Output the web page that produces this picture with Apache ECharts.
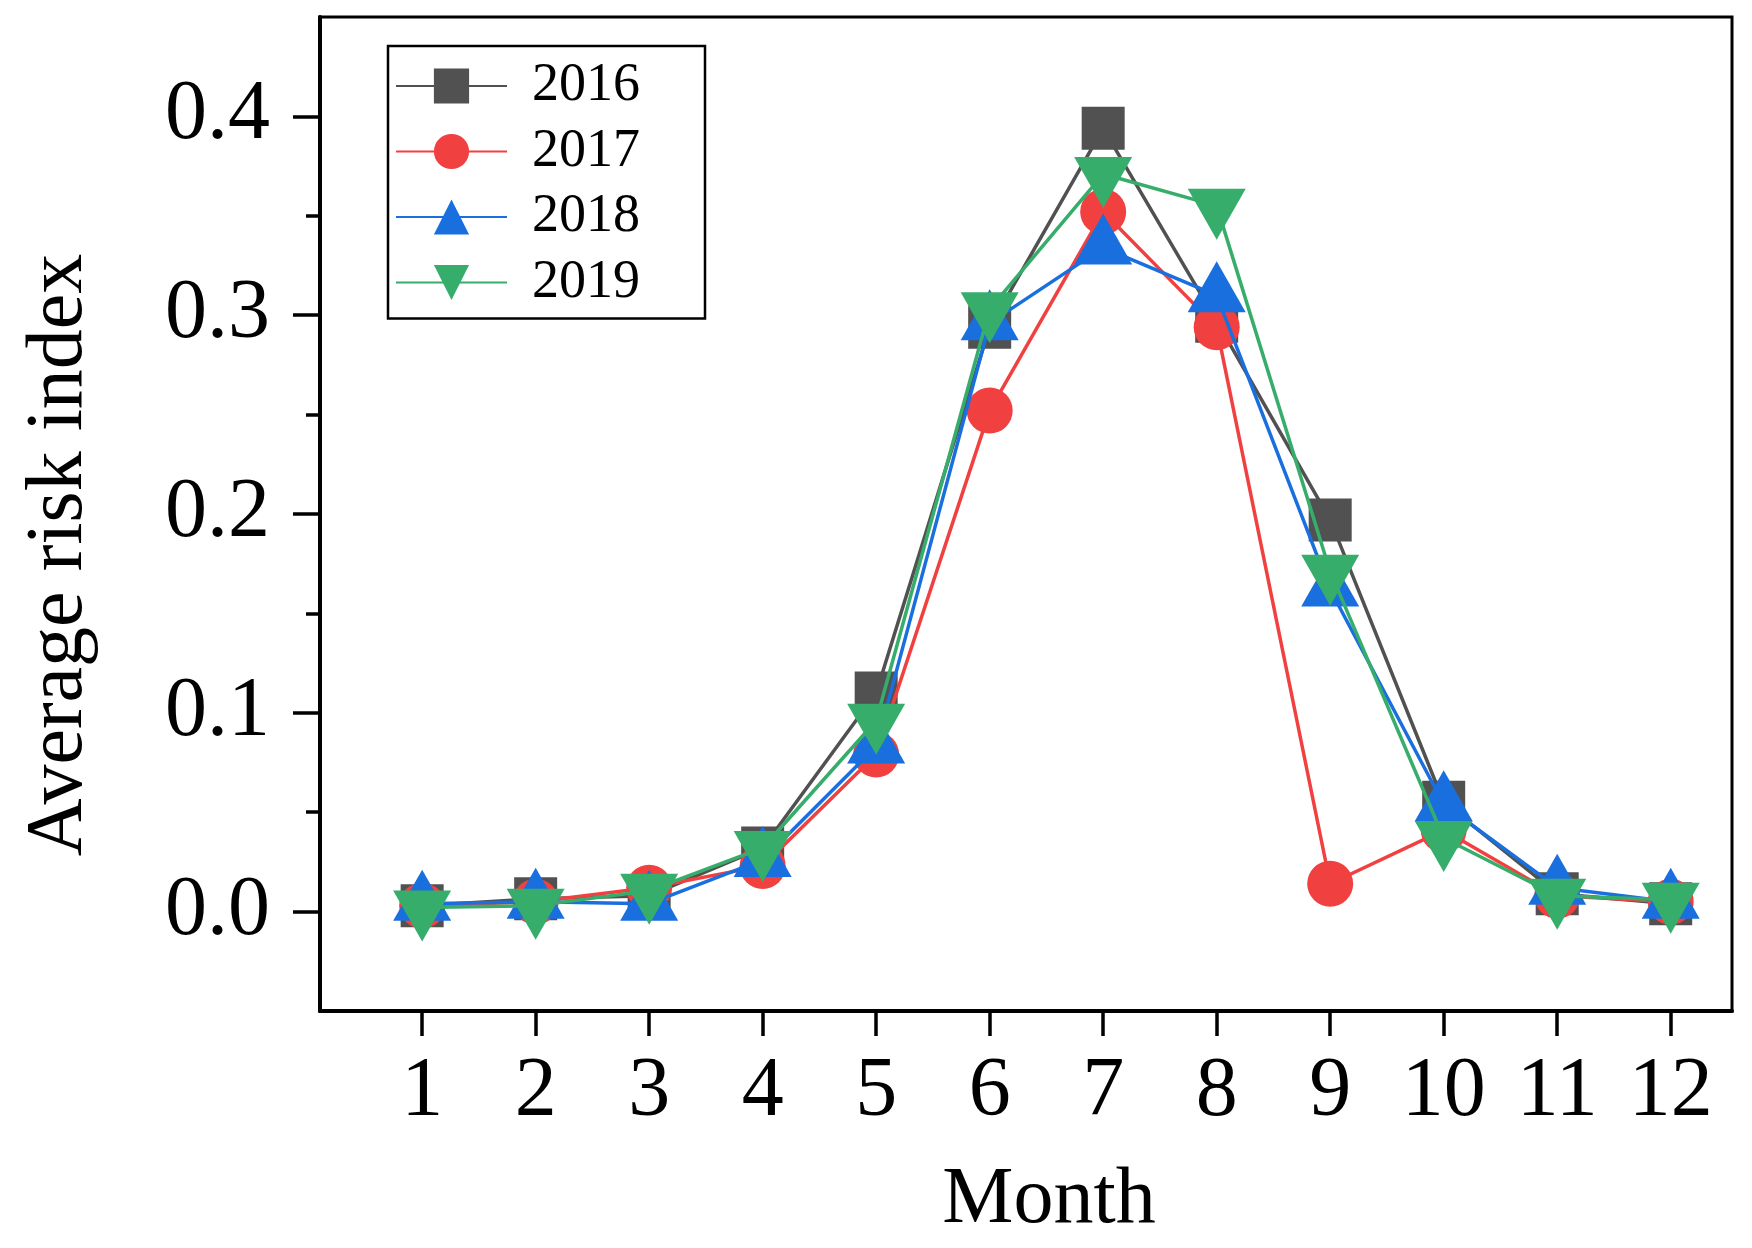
<!DOCTYPE html>
<html>
<head>
<meta charset="utf-8">
<title>Average risk index by month</title>
<script src="https://cdn.jsdelivr.net/npm/echarts@6/dist/echarts.min.js"></script>
<style>
  html, body { margin: 0; padding: 0; background: #fff; }
  #riskChart { width: 1752px; height: 1248px; }
</style>
</head>
<body>
<div id="riskChart"></div>
<script>
// 月份与各年份的平均风险指数
const months = [1, 2, 3, 4, 5, 6, 7, 8, 9, 10, 11, 12];
const yLabels = [0, 0.1, 0.2, 0.3, 0.4];
const yMinorTicks = [0.05, 0.15, 0.25, 0.35];
const years = ['2016', '2017', '2018', '2019'];
const risk2016 = [0.003, 0.0065, 0.008, 0.032, 0.110, 0.294, 0.394, 0.297, 0.197, 0.055, 0.009, 0.004];
const risk2017 = [0.003, 0.005, 0.012, 0.023, 0.079, 0.252, 0.352, 0.294, 0.014, 0.041, 0.008, 0.005];
const risk2018 = [0.004, 0.005, 0.004, 0.026, 0.083, 0.296, 0.334, 0.310, 0.162, 0.054, 0.012, 0.005];
const risk2019 = [0.002, 0.003, 0.0105, 0.032, 0.096, 0.303, 0.371, 0.355, 0.171, 0.037, 0.008, 0.006];

(function() {
  const chart = echarts.init(document.getElementById('riskChart'));
  const serif = '"Liberation Serif", "Times New Roman", serif';
  const downTriangle = 'path://M0,0 L10,0 L5,8.66 Z';

  function pairs(values) {
    return months.map(function(m, i) {
      return [m, values[i]];
    });
  }

  function lineSeries(name, values, color, symbol, size, offset, z) {
    return {
      name: name,
      type: 'line',
      data: pairs(values),
      symbol: symbol,
      symbolSize: size,
      symbolOffset: offset,
      showAllSymbol: true,
      clip: false,
      z: z,
      itemStyle: { color: color, opacity: 1 },
      lineStyle: { color: color, width: 3.5 },
      emphasis: { disabled: true }
    };
  }

  const option = {
    animation: false,
    backgroundColor: '#fff',
    textStyle: { fontFamily: serif, color: '#000' },
    grid: {
      left: 320,
      right: 20,
      top: 17,
      bottom: 237,
      show: true,
      borderColor: '#000',
      borderWidth: 3,
      containLabel: false,
      outerBoundsMode: 'none'
    },
    legend: {
      orient: 'vertical',
      left: 388,
      top: 46,
      padding: [13, 65, 9, 7],
      itemWidth: 111,
      itemHeight: 44,
      itemGap: 11.5,
      borderColor: '#000',
      borderWidth: 2.5,
      backgroundColor: '#fff',
      data: years,
      textStyle: {
        fontFamily: serif,
        fontSize: 54,
        color: '#000',
        padding: [0, 0, 0, 20]
      }
    },
    xAxis: {
      type: 'value',
      min: 0.1,
      max: 12.54,
      name: 'Month',
      nameLocation: 'middle',
      nameGap: 150,
      nameTextStyle: {
        fontFamily: serif,
        fontSize: 80,
        color: '#000',
        padding: [0, 0, 0, 46]
      },
      axisLine: { show: true, onZero: false, lineStyle: { color: '#000', width: 4 } },
      axisTick: {
        show: true,
        inside: false,
        length: 25,
        customValues: months,
        lineStyle: { color: '#000', width: 3.5 }
      },
      axisLabel: {
        customValues: months,
        margin: 40,
        fontFamily: serif,
        fontSize: 84,
        color: '#000'
      },
      splitLine: { show: false }
    },
    yAxis: [
      {
        type: 'value',
        min: -0.05,
        max: 0.45,
        name: 'Average risk index',
        nameLocation: 'middle',
        nameGap: 220,
        nameTextStyle: {
          fontFamily: serif,
          fontSize: 80,
          color: '#000',
          padding: [0, 82, 0, 0]
        },
        axisLine: { show: true, onZero: false, lineStyle: { color: '#000', width: 4 } },
        axisTick: {
          show: true,
          inside: false,
          length: 27,
          customValues: yLabels,
          lineStyle: { color: '#000', width: 3.5 }
        },
        axisLabel: {
          customValues: yLabels,
          margin: 50,
          fontFamily: serif,
          fontSize: 84,
          color: '#000',
          formatter: function(v) {
            return v.toFixed(1);
          }
        },
        splitLine: { show: false }
      },
      {
        // 次刻度
        type: 'value',
        position: 'left',
        min: -0.05,
        max: 0.45,
        axisLine: { show: false },
        axisTick: {
          show: true,
          inside: false,
          length: 14,
          customValues: yMinorTicks,
          lineStyle: { color: '#000', width: 3.5 }
        },
        axisLabel: { show: false },
        splitLine: { show: false }
      }
    ],
    series: [
      lineSeries(years[0], risk2016, '#515151', 'rect', 43, [0, 0], 2),
      lineSeries(years[1], risk2017, '#F14040', 'circle', 46, [0, 0], 3),
      lineSeries(years[2], risk2018, '#1A6FDF', 'triangle', [58, 51], [0, -8.5], 4),
      lineSeries(years[3], risk2019, '#37AD6B', downTriangle, [58, 51], [0, 8.5], 5)
    ]
  };
  chart.setOption(option);
}());
</script>
</body>
</html>
